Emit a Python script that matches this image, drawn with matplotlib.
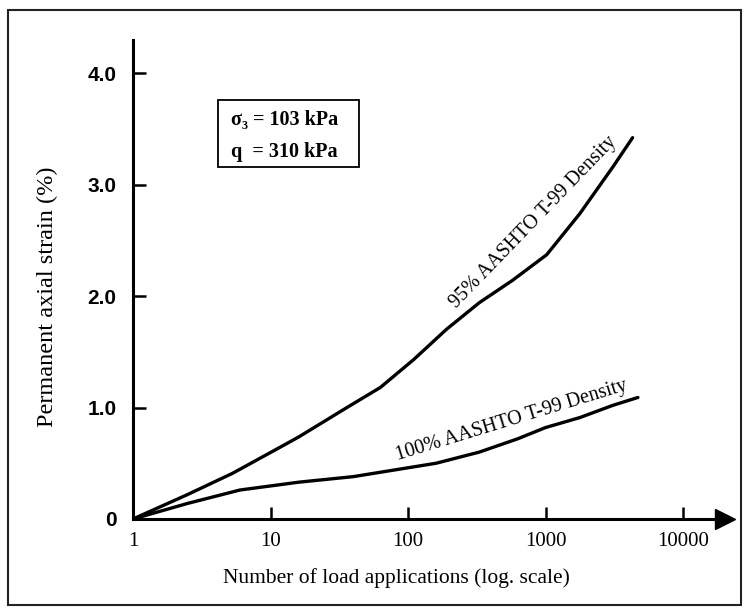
import matplotlib
matplotlib.use("Agg")
import matplotlib.pyplot as plt
from matplotlib.patches import Rectangle

# Data
x_95 = [1, 2.5, 5.3, 12, 16, 36, 63, 110, 190, 330, 575, 1020, 1780, 3100, 4300]
y_95 = [0, 0.22, 0.41, 0.65, 0.735, 1.0, 1.18, 1.43, 1.70, 1.94, 2.14, 2.37, 2.74, 3.16, 3.42]
x_100 = [1, 2.5, 6, 16, 40, 160, 330, 630, 1000, 1780, 3100, 4700]
y_100 = [0, 0.14, 0.26, 0.33, 0.38, 0.50, 0.60, 0.72, 0.82, 0.91, 1.02, 1.09]
x_ticks = [1, 10, 100, 1000, 10000]
x_ticklabels = ["1", "10", "100", "1000", "10000"]
y_ticks = [0, 1, 2, 3, 4]
y_ticklabels = ["0", "1.0", "2.0", "3.0", "4.0"]
label_95 = "95% AASHTO T-99 Density"
label_100 = "100% AASHTO T-99 Density"
box_lines = ["σ₃ = 103 kPa", "q  = 310 kPa"]

W, H = 749, 614
fig = plt.figure(figsize=(W / 100, H / 100), dpi=100)
ax = fig.add_axes([133 / W, 1 - 519 / H, 592 / W, 479 / H])

serif = ["Liberation Serif", "DejaVu Serif"]

ax.plot(x_95, y_95, color="black", lw=2.4, solid_capstyle="round", solid_joinstyle="round")
ax.plot(x_100, y_100, color="black", lw=2.4, solid_capstyle="round", solid_joinstyle="round")

ax.set_xscale("log")
ax.set_xlim(1, 10 ** (592 / 137.5))
ax.set_ylim(0, 479 / 111.5)

for s in ["top", "right"]:
    ax.spines[s].set_visible(False)
for s in ["left", "bottom"]:
    ax.spines[s].set_linewidth(2.2)

ax.set_xticks(x_ticks)
ax.set_xticklabels(x_ticklabels, fontfamily=serif, fontsize=15)
ax.xaxis.set_minor_locator(matplotlib.ticker.NullLocator())
ax.set_yticks(y_ticks)
ax.set_yticklabels(y_ticklabels, fontfamily="Liberation Sans", fontsize=15, fontweight="bold")
ax.tick_params(axis="x", direction="in", length=9, width=1.8, pad=9)
ax.tick_params(axis="y", direction="in", length=9, width=1.8, pad=12)

# axis arrows
ax.plot(1, 0, ">", color="black", markersize=15, transform=ax.get_yaxis_transform(), clip_on=False)
ax.plot(0, 1, "^", color="black", markersize=15, transform=ax.get_xaxis_transform(), clip_on=False)

# curve labels
ax.text(10 ** ((533 - 133) / 137.5), (519 - 222) / 111.5, label_95, rotation=46,
        fontfamily=serif, fontsize=14.5, ha="center", va="center", rotation_mode="anchor")
ax.text(10 ** ((512 - 133) / 137.5), (519 - 421) / 111.5, label_100, rotation=17,
        fontfamily=serif, fontsize=14.5, ha="center", va="center", rotation_mode="anchor")

# condition box
fig.patches.append(Rectangle((218 / W, 1 - 167 / H), 141 / W, 67 / H, transform=fig.transFigure,
                             fill=False, edgecolor="black", lw=1.3))
fig.text(231 / W, 1 - 120 / H, box_lines[0], fontfamily=serif, fontsize=14.5, fontweight="bold",
         ha="left", va="center")
fig.text(231 / W, 1 - 152 / H, box_lines[1], fontfamily=serif, fontsize=14.5, fontweight="bold",
         ha="left", va="center")

# axis titles
fig.text(396 / W, 1 - 578 / H, "Number of load applications (log. scale)", fontfamily=serif,
         fontsize=15.5, ha="center", va="center")
fig.text(47 / W, 1 - 297 / H, "Permanent axial strain (%)", fontfamily=serif,
         fontsize=17.5, ha="center", va="center", rotation=90)

# outer frame
fig.patches.append(Rectangle((8 / W, 1 - 605 / H), 733 / W, 595 / H, transform=fig.transFigure,
                             fill=False, edgecolor="#222222", lw=1.5))

fig.savefig("out.png", dpi=100)
